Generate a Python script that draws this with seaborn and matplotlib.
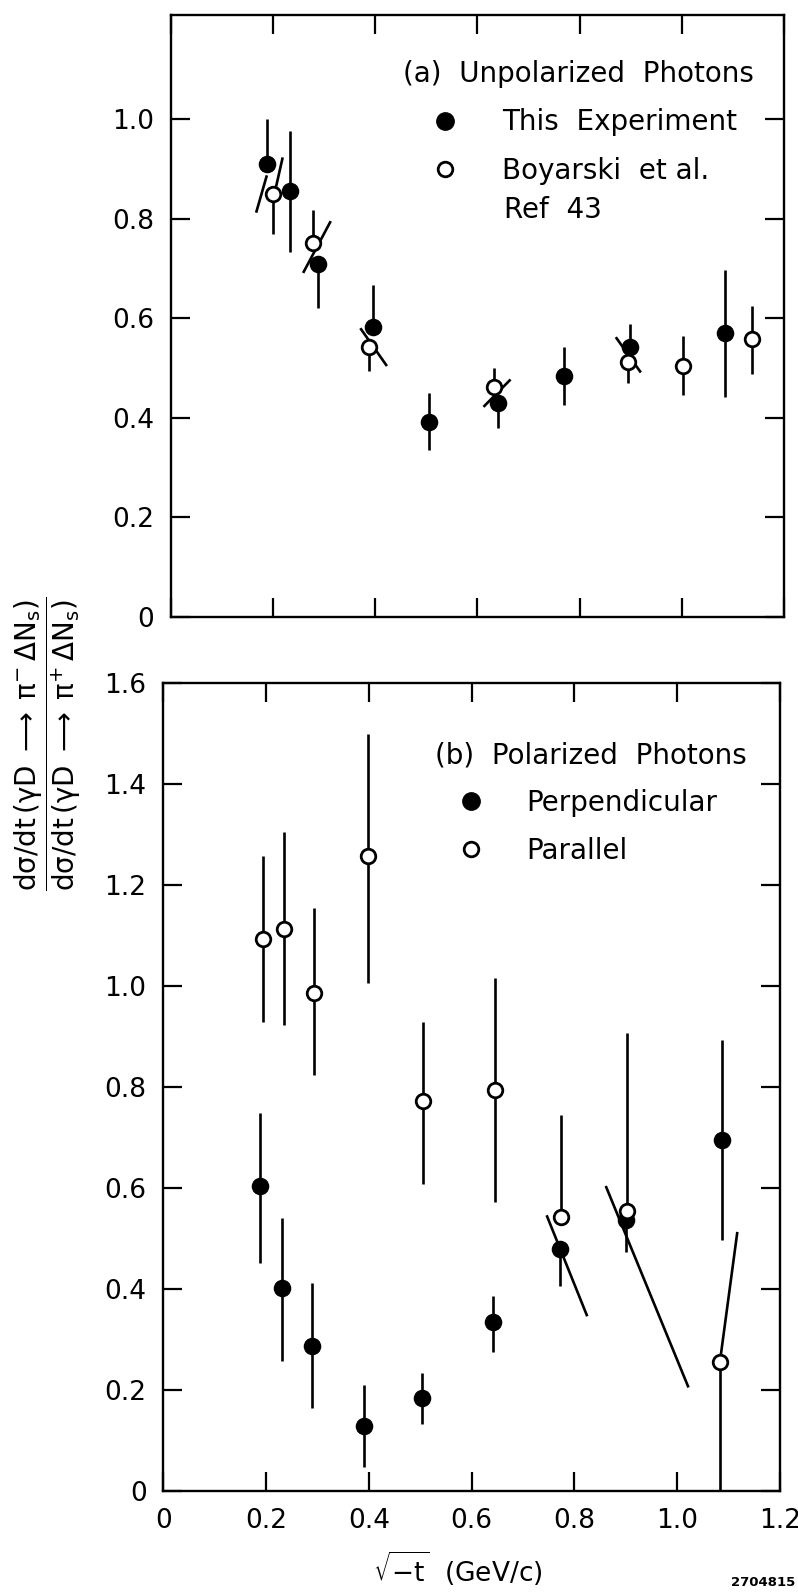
import numpy as np
import matplotlib
matplotlib.use("Agg")
import matplotlib.pyplot as plt
import seaborn as sns
from matplotlib.lines import Line2D

sns.set_theme(style="ticks")
plt.rcParams["font.family"] = ["DejaVu Sans"]
plt.rcParams["mathtext.default"] = "regular"
plt.rcParams["text.color"] = "black"
plt.rcParams["axes.labelcolor"] = "black"
plt.rcParams["xtick.color"] = "black"
plt.rcParams["ytick.color"] = "black"

# ---------------- data: panel (a) unpolarized photons ----------------
a_exp_x = [0.189, 0.233, 0.289, 0.395, 0.506, 0.641, 0.769, 0.899, 1.084]
a_exp_y = [0.909, 0.856, 0.709, 0.583, 0.391, 0.429, 0.484, 0.543, 0.570]
a_exp_lo = [0.909, 0.734, 0.620, 0.583, 0.335, 0.379, 0.426, 0.543, 0.442]
a_exp_hi = [1.000, 0.977, 0.709, 0.667, 0.449, 0.429, 0.542, 0.588, 0.697]

a_boy_x = [0.201, 0.278, 0.388, 0.632, 0.895, 1.003, 1.138]
a_boy_y = [0.849, 0.752, 0.543, 0.461, 0.513, 0.504, 0.558]
a_boy_lo = [0.770, 0.752, 0.494, 0.461, 0.469, 0.446, 0.488]
a_boy_hi = [0.849, 0.817, 0.543, 0.501, 0.513, 0.564, 0.625]

a_slant_x0 = [0.167, 0.206, 0.259, 0.371, 0.612, 0.871]
a_slant_y0 = [0.812, 0.864, 0.691, 0.580, 0.422, 0.562]
a_slant_x1 = [0.188, 0.219, 0.313, 0.423, 0.665, 0.920]
a_slant_y1 = [0.887, 0.923, 0.795, 0.504, 0.477, 0.491]

# ---------------- data: panel (b) polarized photons ----------------
b_perp_x = [0.188, 0.232, 0.289, 0.391, 0.503, 0.642, 0.772, 0.900, 1.087]
b_perp_y = [0.603, 0.401, 0.288, 0.129, 0.184, 0.334, 0.479, 0.537, 0.695]
b_perp_lo = [0.451, 0.258, 0.164, 0.048, 0.133, 0.276, 0.405, 0.474, 0.498]
b_perp_hi = [0.748, 0.540, 0.412, 0.210, 0.234, 0.387, 0.479, 0.537, 0.893]

b_par_x = [0.194, 0.235, 0.294, 0.398, 0.506, 0.646, 0.773, 0.902, 1.083]
b_par_y = [1.093, 1.112, 0.986, 1.257, 0.772, 0.794, 0.543, 0.554, 0.255]
b_par_lo = [0.928, 0.923, 0.824, 1.005, 0.607, 0.573, 0.543, 0.554, 0.000]
b_par_hi = [1.257, 1.304, 1.154, 1.500, 0.929, 1.015, 0.745, 0.906, 0.255]

b_slant_x0 = [0.746, 0.861, 1.083]
b_slant_y0 = [0.546, 0.604, 0.255]
b_slant_x1 = [0.825, 1.022, 1.117]
b_slant_y1 = [0.346, 0.205, 0.513]

x_ticks = [0.0, 0.2, 0.4, 0.6, 0.8, 1.0, 1.2]
x_ticklabels = ["0", "0.2", "0.4", "0.6", "0.8", "1.0", "1.2"]
a_yticks = [0.0, 0.2, 0.4, 0.6, 0.8, 1.0]
a_yticklabels = ["0", "0.2", "0.4", "0.6", "0.8", "1.0"]
b_yticks = [0.0, 0.2, 0.4, 0.6, 0.8, 1.0, 1.2, 1.4, 1.6]
b_yticklabels = ["0", "0.2", "0.4", "0.6", "0.8", "1.0", "1.2", "1.4", "1.6"]

# ---------------- figure ----------------
W, H = 798, 1593
fig = plt.figure(figsize=(W / 100, H / 100), dpi=100)


def rect(l, r, t, b):
    return [l / W, 1 - b / H, (r - l) / W, (b - t) / H]


ax1 = fig.add_axes(rect(170.8, 783.9, 15, 617))
ax2 = fig.add_axes(rect(163.2, 780.0, 683, 1491))

FS = 19
LFS = 20
LW = 1.9


def draw_series(ax, x, y, lo, hi, filled):
    x = np.asarray(x); y = np.asarray(y)
    lo = np.asarray(lo); hi = np.asarray(hi)
    ax.errorbar(x, y, yerr=[y - lo, hi - y], fmt="none", ecolor="black",
                elinewidth=LW, capsize=0, zorder=2)
    if filled:
        sns.scatterplot(x=x, y=y, ax=ax, s=160, color="black",
                        edgecolor="black", linewidth=0, zorder=4, legend=False)
    else:
        sns.scatterplot(x=x, y=y, ax=ax, s=110, color="white",
                        edgecolor="black", linewidth=2.0, zorder=5, legend=False)


def draw_slants(ax, x0, y0, x1, y1):
    for a, b, c, d in zip(x0, y0, x1, y1):
        ax.plot([a, c], [b, d], color="black", lw=LW, zorder=3,
                solid_capstyle="butt")


draw_slants(ax1, a_slant_x0, a_slant_y0, a_slant_x1, a_slant_y1)
draw_series(ax1, a_exp_x, a_exp_y, a_exp_lo, a_exp_hi, True)
draw_series(ax1, a_boy_x, a_boy_y, a_boy_lo, a_boy_hi, False)

draw_slants(ax2, b_slant_x0, b_slant_y0, b_slant_x1, b_slant_y1)
draw_series(ax2, b_perp_x, b_perp_y, b_perp_lo, b_perp_hi, True)
draw_series(ax2, b_par_x, b_par_y, b_par_lo, b_par_hi, False)

for ax in (ax1, ax2):
    ax.set_xlim(0, 1.2)
    ax.set_xticks(x_ticks)
    for sp in ax.spines.values():
        sp.set_linewidth(1.7)
        sp.set_color("black")
        sp.set_visible(True)
    ax.tick_params(direction="in", length=14, width=1.6, top=True, right=True,
                   labelsize=FS, pad=12, colors="black")
    ax.set_xlabel("")
    ax.set_ylabel("")

ax1.set_ylim(0, 1.209)
ax1.set_yticks(a_yticks)
ax1.set_yticklabels(a_yticklabels)
ax1.set_xticklabels([])

ax2.set_ylim(0, 1.6)
ax2.set_yticks(b_yticks)
ax2.set_yticklabels(b_yticklabels)
ax2.set_xticklabels(x_ticklabels)

# legends
h_fill = Line2D([], [], marker="o", ls="none", mfc="black", mec="black", ms=12.5)
h_open = Line2D([], [], marker="o", ls="none", mfc="white", mec="black", mew=2, ms=10.5)

leg1 = ax1.legend([h_fill, h_open], ["This  Experiment", "Boyarski  et al."],
                  title="(a)  Unpolarized  Photons", loc="upper left",
                  bbox_to_anchor=(0.379, 0.926), frameon=False, fontsize=LFS,
                  title_fontsize=LFS, handlelength=3.0, handletextpad=0.55,
                  labelspacing=0.75, borderpad=0, borderaxespad=0)
leg1._legend_box.align = "left"
ax1.text(0.543, 0.676, "Ref  43", transform=ax1.transAxes, ha="left",
         va="center", fontsize=LFS)

leg2 = ax2.legend([h_fill, h_open], ["Perpendicular", "Parallel"],
                  title="(b)  Polarized  Photons", loc="upper left",
                  bbox_to_anchor=(0.440, 0.928), frameon=False, fontsize=LFS,
                  title_fontsize=LFS, handlelength=2.6, handletextpad=0.7,
                  labelspacing=0.72, borderpad=0, borderaxespad=0)
leg2._legend_box.align = "left"

# axis labels
ax2.set_xlabel(r"$\sqrt{-t}$  (GeV/c)", fontsize=FS)
ax2.xaxis.set_label_coords(0.478, -0.072)

fig.text(0.060, 0.533,
         r"$\dfrac{d\sigma/d t\,(\gamma D\;\longrightarrow\;\pi^{-}\,\Delta N_{s})}"
         r"{d\sigma/d t\,(\gamma D\;\longrightarrow\;\pi^{+}\,\Delta N_{s})}$",
         rotation=90, ha="center", va="center", fontsize=20)

fig.text(0.997, 1 - 1583 / H, "2704815", ha="right", va="center",
         fontsize=9.5, fontweight="bold")

fig.savefig("out.png", dpi=100)
